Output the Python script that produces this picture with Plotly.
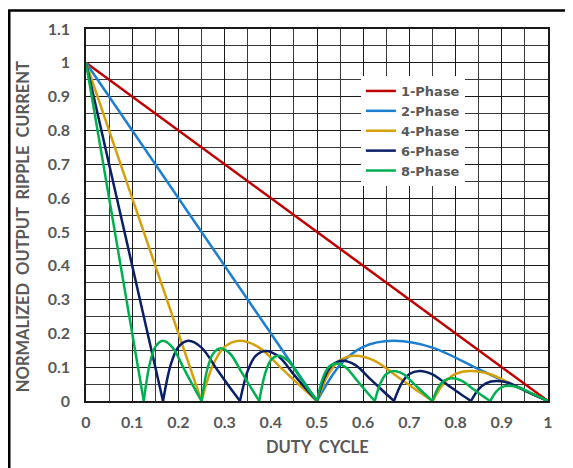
import plotly.graph_objects as go

# ---- data ----
x_1phase = [0, 1.0]
y_1phase = [1.0, 0]

x_2phase = [0, 0.5, None, 0.5, 0.55, 0.6, 0.665, 0.75, 0.85, 0.925, 1.0]
y_2phase = [1.0, 0, None, 0, 0.107, 0.160, 0.178, 0.158, 0.094, 0.046, 0]

x_4phase = [0, 0.25, None,
            0.25, 0.275, 0.3, 0.3325, 0.375, 0.425, 0.4625, 0.5, None,
            0.5, 0.525, 0.55, 0.5825, 0.625, 0.675, 0.7125, 0.75, None,
            0.75, 0.775, 0.8, 0.8325, 0.875, 0.925, 0.9625, 1.0]
y_4phase = [1.0, 0, None,
            0, 0.107, 0.160, 0.178, 0.158, 0.094, 0.046, 0, None,
            0, 0.080, 0.121, 0.134, 0.119, 0.071, 0.035, 0, None,
            0, 0.053, 0.080, 0.089, 0.079, 0.047, 0.023, 0]

x_6phase = [0, 0.1667, None,
            0.1667, 0.1833, 0.2, 0.2217, 0.25, 0.2833, 0.3083, 0.3333, None,
            0.3333, 0.35, 0.3667, 0.3883, 0.4167, 0.45, 0.475, 0.5, None,
            0.5, 0.5167, 0.5333, 0.555, 0.5833, 0.6167, 0.6417, 0.6667, None,
            0.6667, 0.6833, 0.7, 0.7217, 0.75, 0.7833, 0.8083, 0.8333, None,
            0.8333, 0.85, 0.8667, 0.8883, 0.9167, 0.95, 0.975, 1.0]
y_6phase = [1.0, 0, None,
            0, 0.107, 0.160, 0.178, 0.158, 0.094, 0.046, 0, None,
            0, 0.089, 0.133, 0.148, 0.132, 0.078, 0.038, 0, None,
            0, 0.071, 0.107, 0.119, 0.106, 0.063, 0.031, 0, None,
            0, 0.053, 0.080, 0.089, 0.079, 0.047, 0.023, 0, None,
            0, 0.035, 0.053, 0.059, 0.053, 0.031, 0.015, 0]

x_8phase = [0, 0.125, None,
            0.125, 0.1375, 0.15, 0.1663, 0.1875, 0.2125, 0.2313, 0.25, None,
            0.25, 0.2625, 0.275, 0.2913, 0.3125, 0.3375, 0.3563, 0.375, None,
            0.375, 0.3875, 0.4, 0.4163, 0.4375, 0.4625, 0.4813, 0.5, None,
            0.5, 0.5125, 0.525, 0.5413, 0.5625, 0.5875, 0.6063, 0.625, None,
            0.625, 0.6375, 0.65, 0.6663, 0.6875, 0.7125, 0.7313, 0.75, None,
            0.75, 0.7625, 0.775, 0.7913, 0.8125, 0.8375, 0.8563, 0.875, None,
            0.875, 0.8875, 0.9, 0.9163, 0.9375, 0.9625, 0.9813, 1.0]
y_8phase = [1.0, 0, None,
            0, 0.107, 0.160, 0.178, 0.158, 0.094, 0.046, 0, None,
            0, 0.094, 0.140, 0.156, 0.139, 0.083, 0.041, 0, None,
            0, 0.080, 0.121, 0.134, 0.119, 0.071, 0.035, 0, None,
            0, 0.067, 0.100, 0.111, 0.099, 0.059, 0.029, 0, None,
            0, 0.053, 0.080, 0.089, 0.079, 0.047, 0.023, 0, None,
            0, 0.040, 0.060, 0.067, 0.060, 0.036, 0.017, 0, None,
            0, 0.027, 0.041, 0.045, 0.040, 0.024, 0.012, 0]

series_names = ["1-Phase", "2-Phase", "4-Phase", "6-Phase", "8-Phase"]
series_colors = ["#C00000", "#1C7FD0", "#D4A00C", "#0A1F66", "#00B050"]

x_tickvals = [0, 0.1, 0.2, 0.3, 0.4, 0.5, 0.6, 0.7, 0.8, 0.9, 1.0]
x_ticktext = ["0", "0.1", "0.2", "0.3", "0.4", "0.5", "0.6", "0.7", "0.8", "0.9", "1"]
y_tickvals = [0, 0.1, 0.2, 0.3, 0.4, 0.5, 0.6, 0.7, 0.8, 0.9, 1.0, 1.1]
y_ticktext = ["0", "0.1", "0.2", "0.3", "0.4", "0.5", "0.6", "0.7", "0.8", "0.9", "1", "1.1"]
x_title = "DUTY  CYCLE"
y_title = "NORMALIZED  OUTPUT  RIPPLE  CURRENT"

xs = [x_1phase, x_2phase, x_4phase, x_6phase, x_8phase]
ys = [y_1phase, y_2phase, y_4phase, y_6phase, y_8phase]

FONT = "Lato"
GRAY = "#595959"

fig = go.Figure()
for name, color, x, y in zip(series_names, series_colors, xs, ys):
    fig.add_trace(go.Scatter(
        x=x, y=y, name=name, mode="lines",
        line=dict(color=color, width=2.5, shape="spline", smoothing=0.9),
        connectgaps=False,
    ))

axis_common = dict(
    showline=True, mirror=True, linecolor="#1a1a1a", linewidth=1.5,
    showgrid=True, gridcolor="#1a1a1a", gridwidth=1.2,
    zeroline=False, ticks="", automargin=False,
    tickfont=dict(family=FONT, size=16, color=GRAY, weight="bold"),
    minor=dict(dtick=0.05, showgrid=True, gridcolor="#3a3a3a", gridwidth=1),
)

fig.update_xaxes(
    range=[0, 1], tickvals=x_tickvals, ticktext=x_ticktext,
    ticklabelstandoff=6,
    **axis_common,
)
fig.update_yaxes(
    range=[0, 1.1], tickvals=y_tickvals, ticktext=y_ticktext,
    ticklabelstandoff=11,
    **axis_common,
)

title_font = dict(family=FONT, size=16.5, color=GRAY, weight="bold")
fig.update_layout(
    width=573, height=468,
    margin=dict(l=78, r=33, t=21, b=75, autoexpand=False),
    paper_bgcolor="white", plot_bgcolor="white",
    showlegend=True,
    legend=dict(
        x=0.595, y=0.8737, xanchor="left", yanchor="top",
        bgcolor="white", borderwidth=0,
        font=dict(family="DejaVu Sans", size=13, color=GRAY, weight="bold"),
        tracegroupgap=0, itemwidth=30,
    ),
    annotations=[
        dict(text=x_title, xref="paper", yref="paper", x=0.5, y=-0.124,
             xanchor="center", yanchor="middle", showarrow=False, font=title_font),
        dict(text=y_title, xref="paper", yref="paper", x=-0.1364, y=0.47,
             xanchor="center", yanchor="middle", showarrow=False, textangle=-90,
             font=title_font),
    ],
    shapes=[dict(
        type="rect", xref="paper", yref="paper",
        x0=-0.1661, x1=1.3, y0=-0.4, y1=1.0497,
        line=dict(color="black", width=2.5), fillcolor="rgba(0,0,0,0)",
        layer="above",
    )],
)

fig.write_html("out.html")
